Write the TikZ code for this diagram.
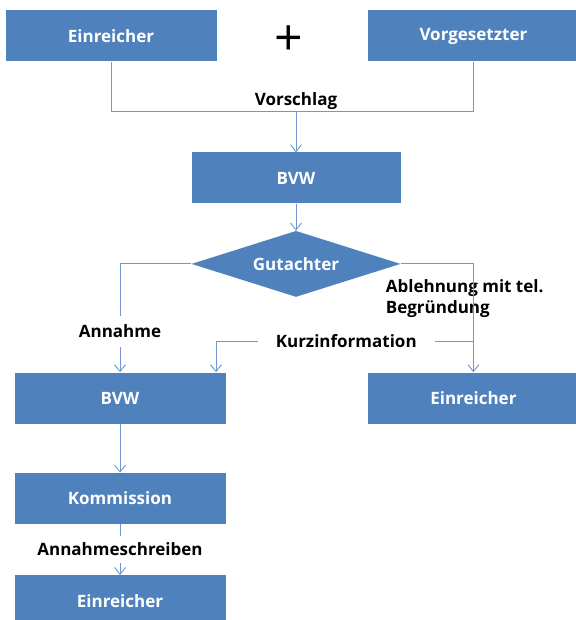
\documentclass[tikz,border=0pt]{standalone}
\usepackage{fontspec}
\setmainfont{Open Sans}
\usetikzlibrary{%
	arrows.meta,%
	calc,%
	positioning,%
	shapes.geometric,%
}
\definecolor{cbox}{RGB}{79, 129, 189}
\definecolor{cline}{RGB}{112, 152, 206}
\newcommand{\flowfont}{\fontsize{17}{21}\selectfont\bfseries}
\tikzset{
	>={Straight Barb[length=7pt,width=11pt]},%
	box/.style={%
			rectangle,%
			fill=cbox,%
			text=white,%
			font=\flowfont,%
			minimum width=211pt,%
			minimum height=51pt},%
	decision/.style={%
			diamond,%
			aspect=3.2,%
			fill=cbox,%
			text=white,%
			font=\flowfont,%
			inner sep=0pt,%
			minimum width=209pt,%
			minimum height=66pt},%
	conn/.style={%
			draw=cline,%
			line width=0.9pt},%
	lbl/.style={%
			text=black,%
			font=\flowfont},%
}

\begin{document}
\begin{tikzpicture}
	\useasboundingbox (0,0) rectangle (575pt,-620pt);

	\node[box] (einA) at (111pt,-36pt) {Einreicher};

	\node[box] (vorg) [right=151pt of einA] {Vorgesetzter};

	\node[font={\fontsize{50}{50}\selectfont}] (plus) at ([yshift=-5pt]$(einA)!0.49!(vorg)$) {+};

	\node[box, minimum width=209pt] (bvwA) at (296pt,-178pt) {BVW};

	\node[decision] (gut) [below=27pt of bvwA] {Gutachter};

	\node[box] (bvwB) at (120pt,-398pt) {BVW};

	\node[box] (einB) at (bvwB -| vorg) {Einreicher};

	\node[box] (komm) [below=49pt of bvwB] {Kommission};

	\node[box] (einC) [below=51pt of komm] {Einreicher};

	\node[lbl, anchor=north west, align=left, inner sep=0pt] (abl) at ([xshift=-15pt,yshift=-15pt]gut.east) {Ablehnung mit tel.\\Begründung};

	\coordinate (vor) at ($(bvwA.north)+(0,41pt)$);
	\coordinate (kurz) at ($(einB.north)+(0,31pt)$);

	\draw[conn] (einA.south) |- (vor) -| (vorg.south);
	\draw[conn, ->] (vor) to (bvwA.north);
	\node[lbl, anchor=south, inner sep=2pt] (vorl) at (vor) {Vorschlag};
	\draw[conn, ->] (bvwA) to (gut);
	\draw[conn, ->] (gut.west) -| (bvwB.north) node[lbl, pos=0.81, fill=white, inner xsep=3pt, inner ysep=9pt] (annl) {Annahme};
	\draw[conn, ->] (gut.east) -| (einB.north);
	\draw[conn, ->] (kurz) -| ([xshift=96pt]bvwB.north) node[lbl, pos=0.247, fill=white, inner xsep=18pt, inner ysep=2pt] (kurzl) {Kurzinformation};
	\draw[conn, ->] (bvwB) to (komm);
	\draw[conn, ->] (komm) to node[lbl, fill=white, inner xsep=3pt, inner ysep=7pt] (schrl) {Annahmeschreiben} (einC);
\end{tikzpicture}
\end{document}
